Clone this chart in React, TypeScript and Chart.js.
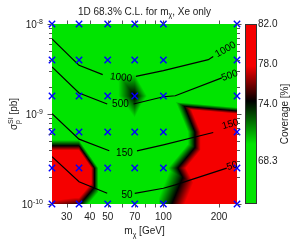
import React, { useEffect, useRef } from "react";
import { Chart, registerables } from "chart.js";

Chart.register(...registerables);

const FONT = "'Liberation Sans', Arial, Helvetica, sans-serif";

// Simulation grid (blue crosses)
const massGrid = [25, 35, 50, 70, 100, 250]; // m_chi [GeV]
const logSigmaGrid = [-8, -8.4, -8.8, -9.2, -9.6, -10]; // log10 sigma_p^SI [pb], top -> bottom

// Coverage [%] at every grid node (rows follow logSigmaGrid, columns follow massGrid)
const coverage = [
  [64, 64, 64, 64, 64, 64],
  [64, 64, 67, 67, 65, 64],
  [64, 64, 67, 74.6, 64, 56],
  [64, 64, 64, 67, 55, 100],
  [91, 91, 60, 60, 68, 100],
  [76.5, 75, 60, 60, 72, 92],
];

// Colour bar
const cbMin = 64;
const cbMax = 82;
const cbTicks = [68.3, 74.0, 78.0, 82.0];
const cmapStops = [70, 74.3, 77.8]; // full green below, black at, full red above
const cmapGreen = [0, 228, 0];
const cmapRed = [245, 0, 0];

// Axis ticks
const xTicks = [30, 40, 50, 70, 100, 200];
const xMinorTicks = [30, 40, 50, 60, 70, 80, 90, 100, 200];
const yDecades = [-8, -9, -10];

// Contours of expected events: [mass, log10 sigma], split where the labels sit
const contour1000 = [
  [[25, -8.165], [35, -8.459], [47, -8.563]],
  [[71, -8.582], [100, -8.518], [175, -8.396], [186, -8.36]],
];
const contour500 = [
  [[25, -8.477], [35, -8.767], [49.7, -8.889]],
  [[69, -8.889], [100, -8.808], [116, -8.797], [207, -8.599]],
];
const contour150 = [
  [[25, -8.997], [35, -9.279], [51, -9.409]],
  [[72, -9.409], [100, -9.343], [186, -9.206]],
];
const contour50 = [
  [[25, -9.473], [35, -9.752], [49.7, -9.881]],
  [[70, -9.881], [100, -9.825], [116, -9.788], [220, -9.602]],
];
const contourLabels = ["1000", "500", "150", "50"];
const labelLeftPos = [[59, -8.596], [58.6, -8.897], [61.6, -9.437], [63.6, -9.905]];
const labelLeftAngle = [6, 0, 0, 0];
const labelRightPos = [[217, -8.284], [228, -8.574], [230, -9.114], [235.6, -9.577]];
const labelRightAngle = [-30, -20, -16, -18];

function valueAt(x: number, y: number, colPx: number[], rowPx: number[]) {
  let i = 0;
  while (i < colPx.length - 2 && x > colPx[i + 1]) i++;
  let j = 0;
  while (j < rowPx.length - 2 && y > rowPx[j + 1]) j++;
  let u = (x - colPx[i]) / (colPx[i + 1] - colPx[i]);
  let v = (y - rowPx[j]) / (rowPx[j + 1] - rowPx[j]);
  u = Math.max(0, Math.min(1, u));
  v = Math.max(0, Math.min(1, v));
  const TL = coverage[j][i], TR = coverage[j][i + 1];
  const BL = coverage[j + 1][i], BR = coverage[j + 1][i + 1];
  if (u >= v) return TL * (1 - u) + TR * (u - v) + BR * v;
  return TL * (1 - v) + BL * (v - u) + BR * u;
}

function colourFor(v: number): number[] {
  const [g, k, r] = cmapStops;
  if (v <= g) return cmapGreen;
  if (v < k) {
    const t = (k - v) / (k - g);
    return cmapGreen.map((c) => c * t);
  }
  if (v < r) {
    const t = (v - k) / (r - k);
    return cmapRed.map((c) => c * t);
  }
  return cmapRed;
}

type Part = { t: string; s: number; dy: number };
function partsWidth(ctx: CanvasRenderingContext2D, parts: Part[]) {
  let w = 0;
  for (const p of parts) {
    ctx.font = `${p.s}px ${FONT}`;
    w += ctx.measureText(p.t).width;
  }
  return w;
}
function drawParts(ctx: CanvasRenderingContext2D, parts: Part[], cx: number, baseline: number) {
  let x = cx - partsWidth(ctx, parts) / 2;
  ctx.textAlign = "left";
  ctx.textBaseline = "alphabetic";
  for (const p of parts) {
    ctx.font = `${p.s}px ${FONT}`;
    ctx.fillText(p.t, x, baseline + p.dy);
    x += ctx.measureText(p.t).width;
  }
}

const paintPlugin = {
  id: "paint",
  beforeDatasetsDraw(chart: any) {
    const { ctx, chartArea: ca, scales } = chart;
    const xs = scales.x, ys = scales.y;
    const colPx = massGrid.map((m) => xs.getPixelForValue(m));
    const rowPx = logSigmaGrid.map((e) => ys.getPixelForValue(Math.pow(10, e)));
    const x0 = Math.round(ca.left), y0 = Math.round(ca.top);
    const w = Math.round(ca.right) - x0, h = Math.round(ca.bottom) - y0;
    const img = ctx.createImageData(w, h);
    for (let py = 0; py < h; py++) {
      const y = y0 + py + 0.5;
      for (let px = 0; px < w; px++) {
        const x = x0 + px + 0.5;
        const c = colourFor(valueAt(x, y, colPx, rowPx));
        const k = (py * w + px) * 4;
        img.data[k] = c[0];
        img.data[k + 1] = c[1];
        img.data[k + 2] = c[2];
        img.data[k + 3] = 255;
      }
    }
    ctx.putImageData(img, x0, y0);
  },
  afterDatasetsDraw(chart: any) {
    const { ctx, scales } = chart;
    const xs = scales.x, ys = scales.y;
    ctx.save();
    ctx.fillStyle = "#000";
    ctx.font = `10px ${FONT}`;
    ctx.textAlign = "center";
    ctx.textBaseline = "middle";
    const put = (pos: number[], ang: number, txt: string) => {
      const px = xs.getPixelForValue(pos[0]);
      const py = ys.getPixelForValue(Math.pow(10, pos[1]));
      ctx.save();
      ctx.translate(px, py);
      ctx.rotate((ang * Math.PI) / 180);
      ctx.fillText(txt, 0, 0);
      ctx.restore();
    };
    contourLabels.forEach((t, i) => {
      put(labelLeftPos[i], labelLeftAngle[i], t);
      put(labelRightPos[i], labelRightAngle[i], t);
    });
    ctx.restore();
  },
  afterDraw(chart: any) {
    const { ctx, chartArea: ca, scales } = chart;
    const xs = scales.x, ys = scales.y;
    ctx.save();
    // tick marks (outside the box)
    ctx.strokeStyle = "#555";
    ctx.lineWidth = 1;
    ctx.beginPath();
    for (const m of xMinorTicks) {
      const x = Math.round(xs.getPixelForValue(m)) + 0.5;
      ctx.moveTo(x, ca.top);
      ctx.lineTo(x, ca.top - 3.5);
      ctx.moveTo(x, ca.bottom);
      ctx.lineTo(x, ca.bottom + 3.5);
    }
    for (let e = -10; e <= -8; e++) {
      for (let k = 1; k <= 9; k++) {
        if (e === -8 && k > 1) break;
        const y = Math.round(ys.getPixelForValue(k * Math.pow(10, e))) + 0.5;
        const len = k === 1 ? 4.5 : 3;
        ctx.moveTo(ca.left, y);
        ctx.lineTo(ca.left - len, y);
        ctx.moveTo(ca.right, y);
        ctx.lineTo(ca.right + len, y);
      }
    }
    ctx.stroke();

    ctx.fillStyle = "#222";
    // y tick labels 10^e
    for (const e of yDecades) {
      const y = ys.getPixelForValue(Math.pow(10, e));
      const right = ca.left - 9;
      ctx.font = `7px ${FONT}`;
      const sup = String(e);
      const sw = ctx.measureText(sup).width;
      ctx.textAlign = "left";
      ctx.textBaseline = "alphabetic";
      ctx.fillText(sup, right - sw, y - 0.5);
      ctx.font = `10px ${FONT}`;
      const bw = ctx.measureText("10").width;
      ctx.fillText("10", right - sw - bw, y + 4);
    }

    const cx = (ca.left + ca.right) / 2;
    // title
    drawParts(ctx, [
      { t: "1D 68.3% C.L. for m", s: 10, dy: 0 },
      { t: "\u03c7", s: 7, dy: 2.5 },
      { t: ", Xe only", s: 10, dy: 0 },
    ], cx, 14.5);
    // x title
    drawParts(ctx, [
      { t: "m", s: 10, dy: 0 },
      { t: "\u03c7", s: 7, dy: 2.5 },
      { t: " [GeV]", s: 10, dy: 0 },
    ], cx, 234);

    // y title: sigma_p^SI [pb]
    {
      const cy = (ca.top + ca.bottom) / 2;
      ctx.save();
      ctx.translate(17, cy);
      ctx.rotate(-Math.PI / 2);
      ctx.textAlign = "left";
      ctx.textBaseline = "alphabetic";
      ctx.font = `10px ${FONT}`;
      const wSig = ctx.measureText("\u03c3").width;
      const wRest = ctx.measureText(" [pb]").width;
      ctx.font = `7px ${FONT}`;
      const wSI = Math.max(ctx.measureText("SI").width, ctx.measureText("p").width);
      let x = -(wSig + wSI + wRest) / 2;
      ctx.font = `10px ${FONT}`;
      ctx.fillText("\u03c3", x, 0);
      x += wSig;
      ctx.font = `7px ${FONT}`;
      ctx.fillText("SI", x, -4.5);
      ctx.fillText("p", x, 2.5);
      x += wSI;
      ctx.font = `10px ${FONT}`;
      ctx.fillText(" [pb]", x, 0);
      ctx.restore();
    }

    // colour bar
    const bx0 = 245, bx1 = 257;
    const top = ca.top, bot = ca.bottom;
    const yOf = (v: number) => top + ((cbMax - v) / (cbMax - cbMin)) * (bot - top);
    for (let y = Math.round(top); y < Math.round(bot); y++) {
      const v = cbMax - ((y + 0.5 - top) / (bot - top)) * (cbMax - cbMin);
      const c = colourFor(v);
      ctx.fillStyle = `rgb(${c[0]},${c[1]},${c[2]})`;
      ctx.fillRect(bx0, y, bx1 - bx0, 1);
    }
    ctx.strokeStyle = "#333";
    ctx.lineWidth = 1;
    ctx.strokeRect(bx0 + 0.5, Math.round(top) + 0.5, bx1 - bx0 - 1, Math.round(bot) - Math.round(top) - 1);
    ctx.fillStyle = "#222";
    ctx.font = `10px ${FONT}`;
    ctx.textAlign = "left";
    ctx.textBaseline = "middle";
    for (const t of cbTicks) ctx.fillText(t.toFixed(1), bx1 + 1, yOf(t));
    ctx.save();
    ctx.translate(285, (top + bot) / 2);
    ctx.rotate(-Math.PI / 2);
    ctx.textAlign = "center";
    ctx.textBaseline = "middle";
    ctx.fillText("Coverage [%]", 0, 0);
    ctx.restore();
    ctx.restore();
  },
};

export default function App() {
  const ref = useRef<HTMLCanvasElement | null>(null);
  useEffect(() => {
    if (!ref.current) return;
    const toXY = (pts: number[][]) => pts.map(([m, e]) => ({ x: m, y: Math.pow(10, e) }));
    const markers: { x: number; y: number }[] = [];
    for (const e of logSigmaGrid) for (const m of massGrid) markers.push({ x: m, y: Math.pow(10, e) });
    const segments = [...contour1000, ...contour500, ...contour150, ...contour50];
    const chart = new Chart(ref.current, {
      type: "scatter",
      data: {
        datasets: [
          {
            data: markers,
            pointStyle: "crossRot",
            pointRadius: 4.5,
            pointBorderWidth: 1.4,
            borderColor: "#0000ff",
            backgroundColor: "#0000ff",
            showLine: false,
            clip: false,
          } as any,
          ...segments.map((seg) => ({
            data: toXY(seg),
            showLine: true,
            borderColor: "#000",
            borderWidth: 1.2,
            pointRadius: 0,
            fill: false,
            tension: 0,
          })),
        ],
      },
      options: {
        responsive: false,
        animation: false,
        devicePixelRatio: 1,
        events: [],
        layout: { padding: { top: 24, right: 59, left: 0, bottom: 0 } },
        plugins: { legend: { display: false }, tooltip: { enabled: false }, title: { display: false } },
        scales: {
          x: {
            type: "logarithmic",
            min: 25,
            max: 250,
            afterBuildTicks: (s: any) => {
              s.ticks = xTicks.map((v) => ({ value: v }));
            },
            afterFit: (s: any) => {
              s.height = 42;
            },
            ticks: {
              autoSkip: false,
              maxRotation: 0,
              padding: 7,
              color: "#222",
              font: { family: FONT, size: 10 },
              callback: (v: any) => String(v),
            },
            grid: { display: false, drawTicks: false },
            border: { display: false },
          },
          y: {
            type: "logarithmic",
            min: 1e-10,
            max: 1e-8,
            afterFit: (s: any) => {
              s.width = 52;
            },
            ticks: { display: false },
            grid: { display: false, drawTicks: false },
            border: { display: false },
          },
        },
      } as any,
      plugins: [paintPlugin],
    });
    return () => chart.destroy();
  }, []);
  return (
    <div style={{ position: "fixed", left: 0, top: 0, width: 296, height: 246, background: "#fff" }}>
      <canvas ref={ref} width={296} height={246} style={{ display: "block" }} />
    </div>
  );
}
